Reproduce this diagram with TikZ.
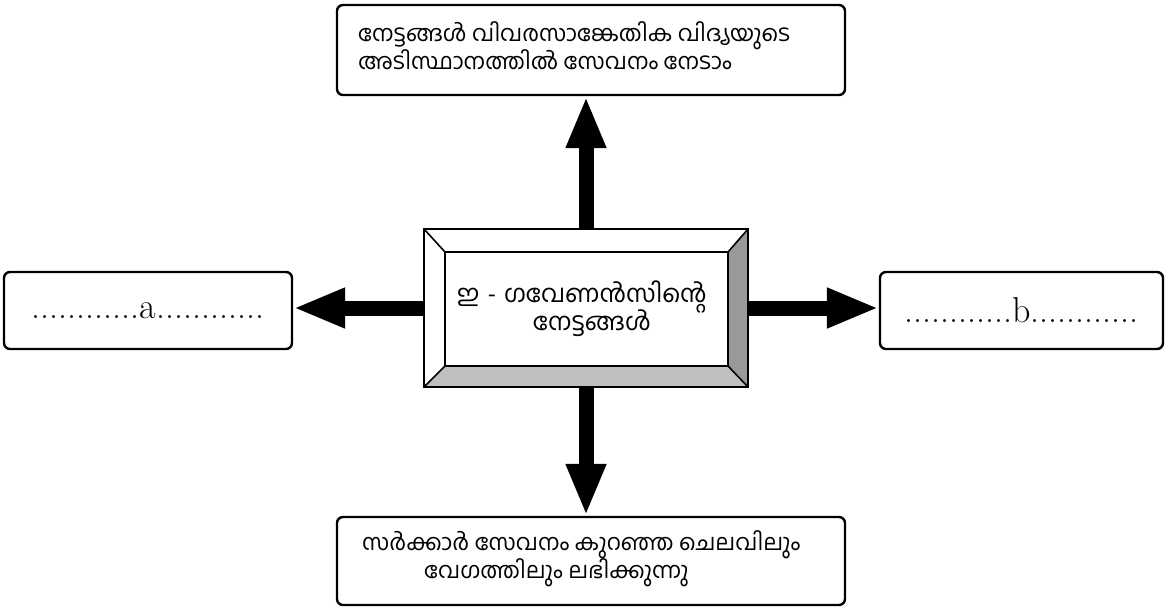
\documentclass[tikz,border=0pt]{standalone}
\usepackage{fontspec}
\newfontfamily\mlfont[Script=Malayalam]{Hind Kochi}
\newcommand\mlsmall{\mlfont\fontsize{22.5}{28}\selectfont\lineskiplimit-100pt\relax}
\newcommand\mllarge{\mlfont\fontsize{24.5}{28}\selectfont\lineskiplimit-100pt\relax}
\usetikzlibrary{arrows.meta,calc}
\begin{document}
\begin{tikzpicture}[x=1pt,y=-1pt,
  box/.style={draw, line width=2.4pt, rounded corners=6pt, fill=white, inner sep=0pt},
  bigarrow/.style={line width=15pt, -{Triangle[length=52pt,width=37pt]}},
  ml/.style={font=\mlsmall, inner sep=0pt},
  mlbig/.style={font=\mllarge, inner sep=0pt},
  dotted text/.style={font=\fontsize{36}{40}\selectfont},
  bevel/.style={draw, line width=2pt, line join=miter}]
\useasboundingbox (0,0) rectangle (1166,607);
% outer boxes
\node[box, minimum width=508pt, minimum height=90pt] (top) at (591,50) {};
\node[ml, align=left, anchor=west] (toptext) at (358,46)
  {നേട്ടങ്ങൾ വിവരസാങ്കേതിക വിദ്യയുടെ\\അടിസ്ഥാനത്തിൽ സേവനം നേടാം};
\node[box, minimum width=508pt, minimum height=88pt] (bot) at (591,561) {};
\node[ml, align=left, anchor=west] (bottext) at (362,559)
  {സർക്കാർ സേവനം കുറഞ്ഞ ചെലവിലും\\\hspace*{62pt}വേഗത്തിലും ലഭിക്കുന്നു};
\node[box, dotted text, minimum width=288pt, minimum height=77pt] (a) at (148,310.5) {............a............};
\node[box, dotted text, minimum width=283pt, minimum height=77pt] (b) at (1021.5,310.5) {............b............};
% centre node (shape only for anchors)
\path node[minimum width=324pt, minimum height=158pt, inner sep=0pt] (ctr) at (586,308) {};
% arrows
\draw[bigarrow] (ctr.north) -- (ctr.north |- top.south);
\draw[bigarrow] (ctr.south) -- (ctr.south |- bot.north);
\draw[bigarrow] (ctr.west) -- (ctr.west -| a.east);
\draw[bigarrow] (ctr.east) -- (ctr.east -| b.west);
% bevelled centre box
\coordinate (inw) at ($(ctr.north west)+(21,23)$);
\coordinate (ine) at ($(ctr.north east)+(-20,23)$);
\coordinate (isw) at ($(ctr.south west)+(21,-21)$);
\coordinate (ise) at ($(ctr.south east)+(-20,-21)$);
\fill[white] (ctr.north west) rectangle (ctr.south east);
\fill[black!40] (ctr.north east) -- (ctr.south east) -- (ise) -- (ine) -- cycle;
\fill[black!25] (ctr.south west) -- (ctr.south east) -- (ise) -- (isw) -- cycle;
\draw[bevel] (ctr.north west) rectangle (ctr.south east);
\draw[bevel] (inw) rectangle (ise);
\draw[line width=1.6pt] (ctr.north west) -- (inw) (ctr.north east) -- (ine)
  (ctr.south west) -- (isw) (ctr.south east) -- (ise);
\node[mlbig, align=center] (ctrtext) at ($(ctr.center)+(-4,0.5)$)
  {ഇ\hspace{8pt}-\hspace{8pt}ഗവേണൻസിന്റെ\\\hspace*{20pt}നേട്ടങ്ങൾ};
\end{tikzpicture}
\end{document}
